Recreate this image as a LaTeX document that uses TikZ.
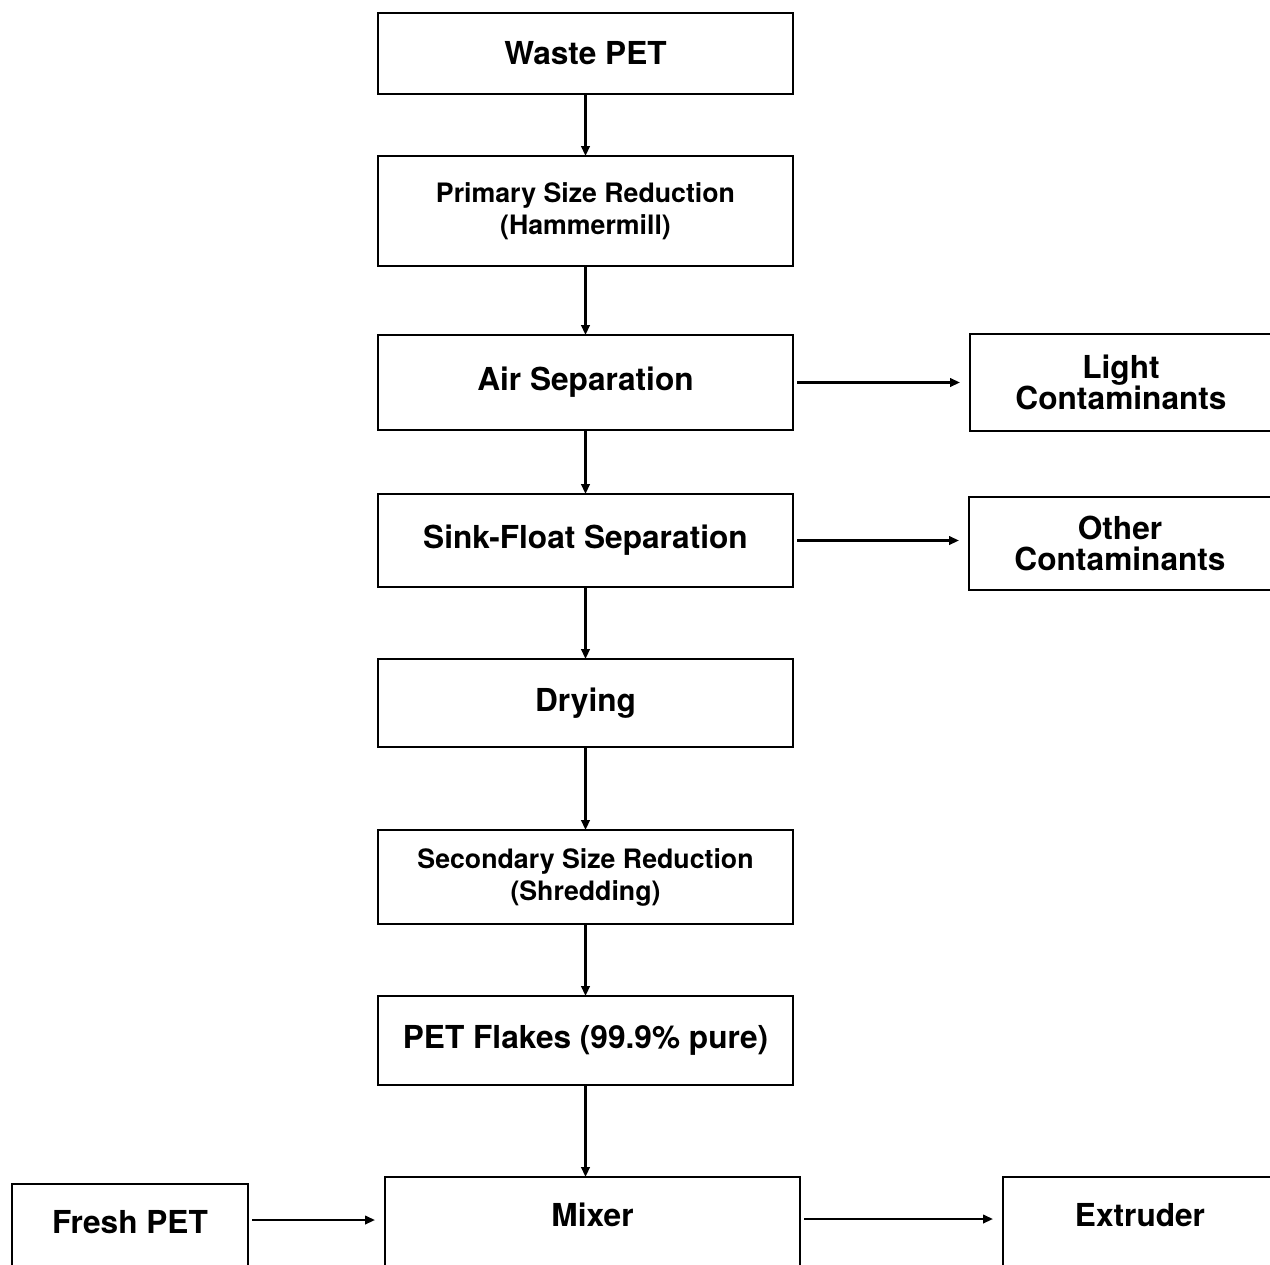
\documentclass[tikz,border=0pt]{standalone}
\usepackage{fontspec}
\setmainfont{TeX Gyre Heros}
\usetikzlibrary{arrows.meta, positioning}

\begin{document}
\begin{tikzpicture}[node distance=1.3cm,
box/.style={
    rectangle,
    draw,
    line width=1.4pt,
    outer sep=0pt,
    minimum width=8.3cm,
    align=center,
    font=\bfseries\fontsize{18}{18}\selectfont
},
smalltext/.style={font=\bfseries\fontsize{15.2}{18.2}\selectfont},
lowbox/.style={minimum height=2cm, text depth=0.5cm},
flow/.style={->, line width=1.5pt},
side/.style={->, line width=1.3pt, shorten <=0.08cm, shorten >=0.2cm},
>={Triangle[length=2mm, width=1.7mm]}]

  \clip (0,0) rectangle (25.4,-25.28);

  \node[box, minimum height=1.62cm] (waste) at (11.71,-1.07) {Waste PET};
  \node[box, smalltext, minimum height=2.2cm, below=1.24cm of waste] (primary) {Primary Size Reduction\\(Hammermill)};
  \node[box, minimum height=1.9cm, below=1.38cm of primary] (air) {Air Separation};
  \node[box, minimum width=6.04cm, minimum height=1.94cm, right=3.54cm of air] (light) {Light\\Contaminants};
  \node[box, minimum height=1.86cm, below=1.28cm of air] (sink) {Sink-Float Separation};
  \node[box, minimum width=6.04cm, minimum height=1.86cm, right=3.52cm of sink, yshift=-0.06cm] (other) {Other\\Contaminants};
  \node[box, minimum height=1.76cm, below=1.44cm of sink] (drying) {Drying};
  \node[box, smalltext, minimum height=1.88cm, below=1.66cm of drying] (secondary) {Secondary Size Reduction\\(Shredding)};
  \node[box, minimum height=1.78cm, below=1.44cm of secondary] (flakes) {PET Flakes (99.9\% pure)};
  \node[box, lowbox, below=1.84cm of flakes, xshift=0.14cm] (mixer) {Mixer};
  \node[box, lowbox, minimum width=4.72cm, left=2.74cm of mixer, yshift=-0.14cm] (fresh) {Fresh PET};
  \node[box, lowbox, minimum width=5.48cm, right=4.06cm of mixer] (extruder) {Extruder};

  \draw[flow] (waste) -- (primary);
  \draw[flow] (primary) -- (air);
  \draw[flow] (air) -- (sink);
  \draw[flow] (sink) -- (drying);
  \draw[flow] (drying) -- (secondary);
  \draw[flow] (secondary) -- (flakes);
  \draw[flow] (flakes) -- (flakes |- mixer.north);
  \draw[side] (air) -- (light);
  \draw[side] (sink.east) -- (sink.east -| other.west);
  \draw[side] ([yshift=0.28cm]fresh.east) -- ([yshift=0.28cm]fresh.east -| mixer.west);
  \draw[side] ([yshift=0.16cm]mixer.east) -- ([yshift=0.16cm]mixer.east -| extruder.west);

\end{tikzpicture}
\end{document}
